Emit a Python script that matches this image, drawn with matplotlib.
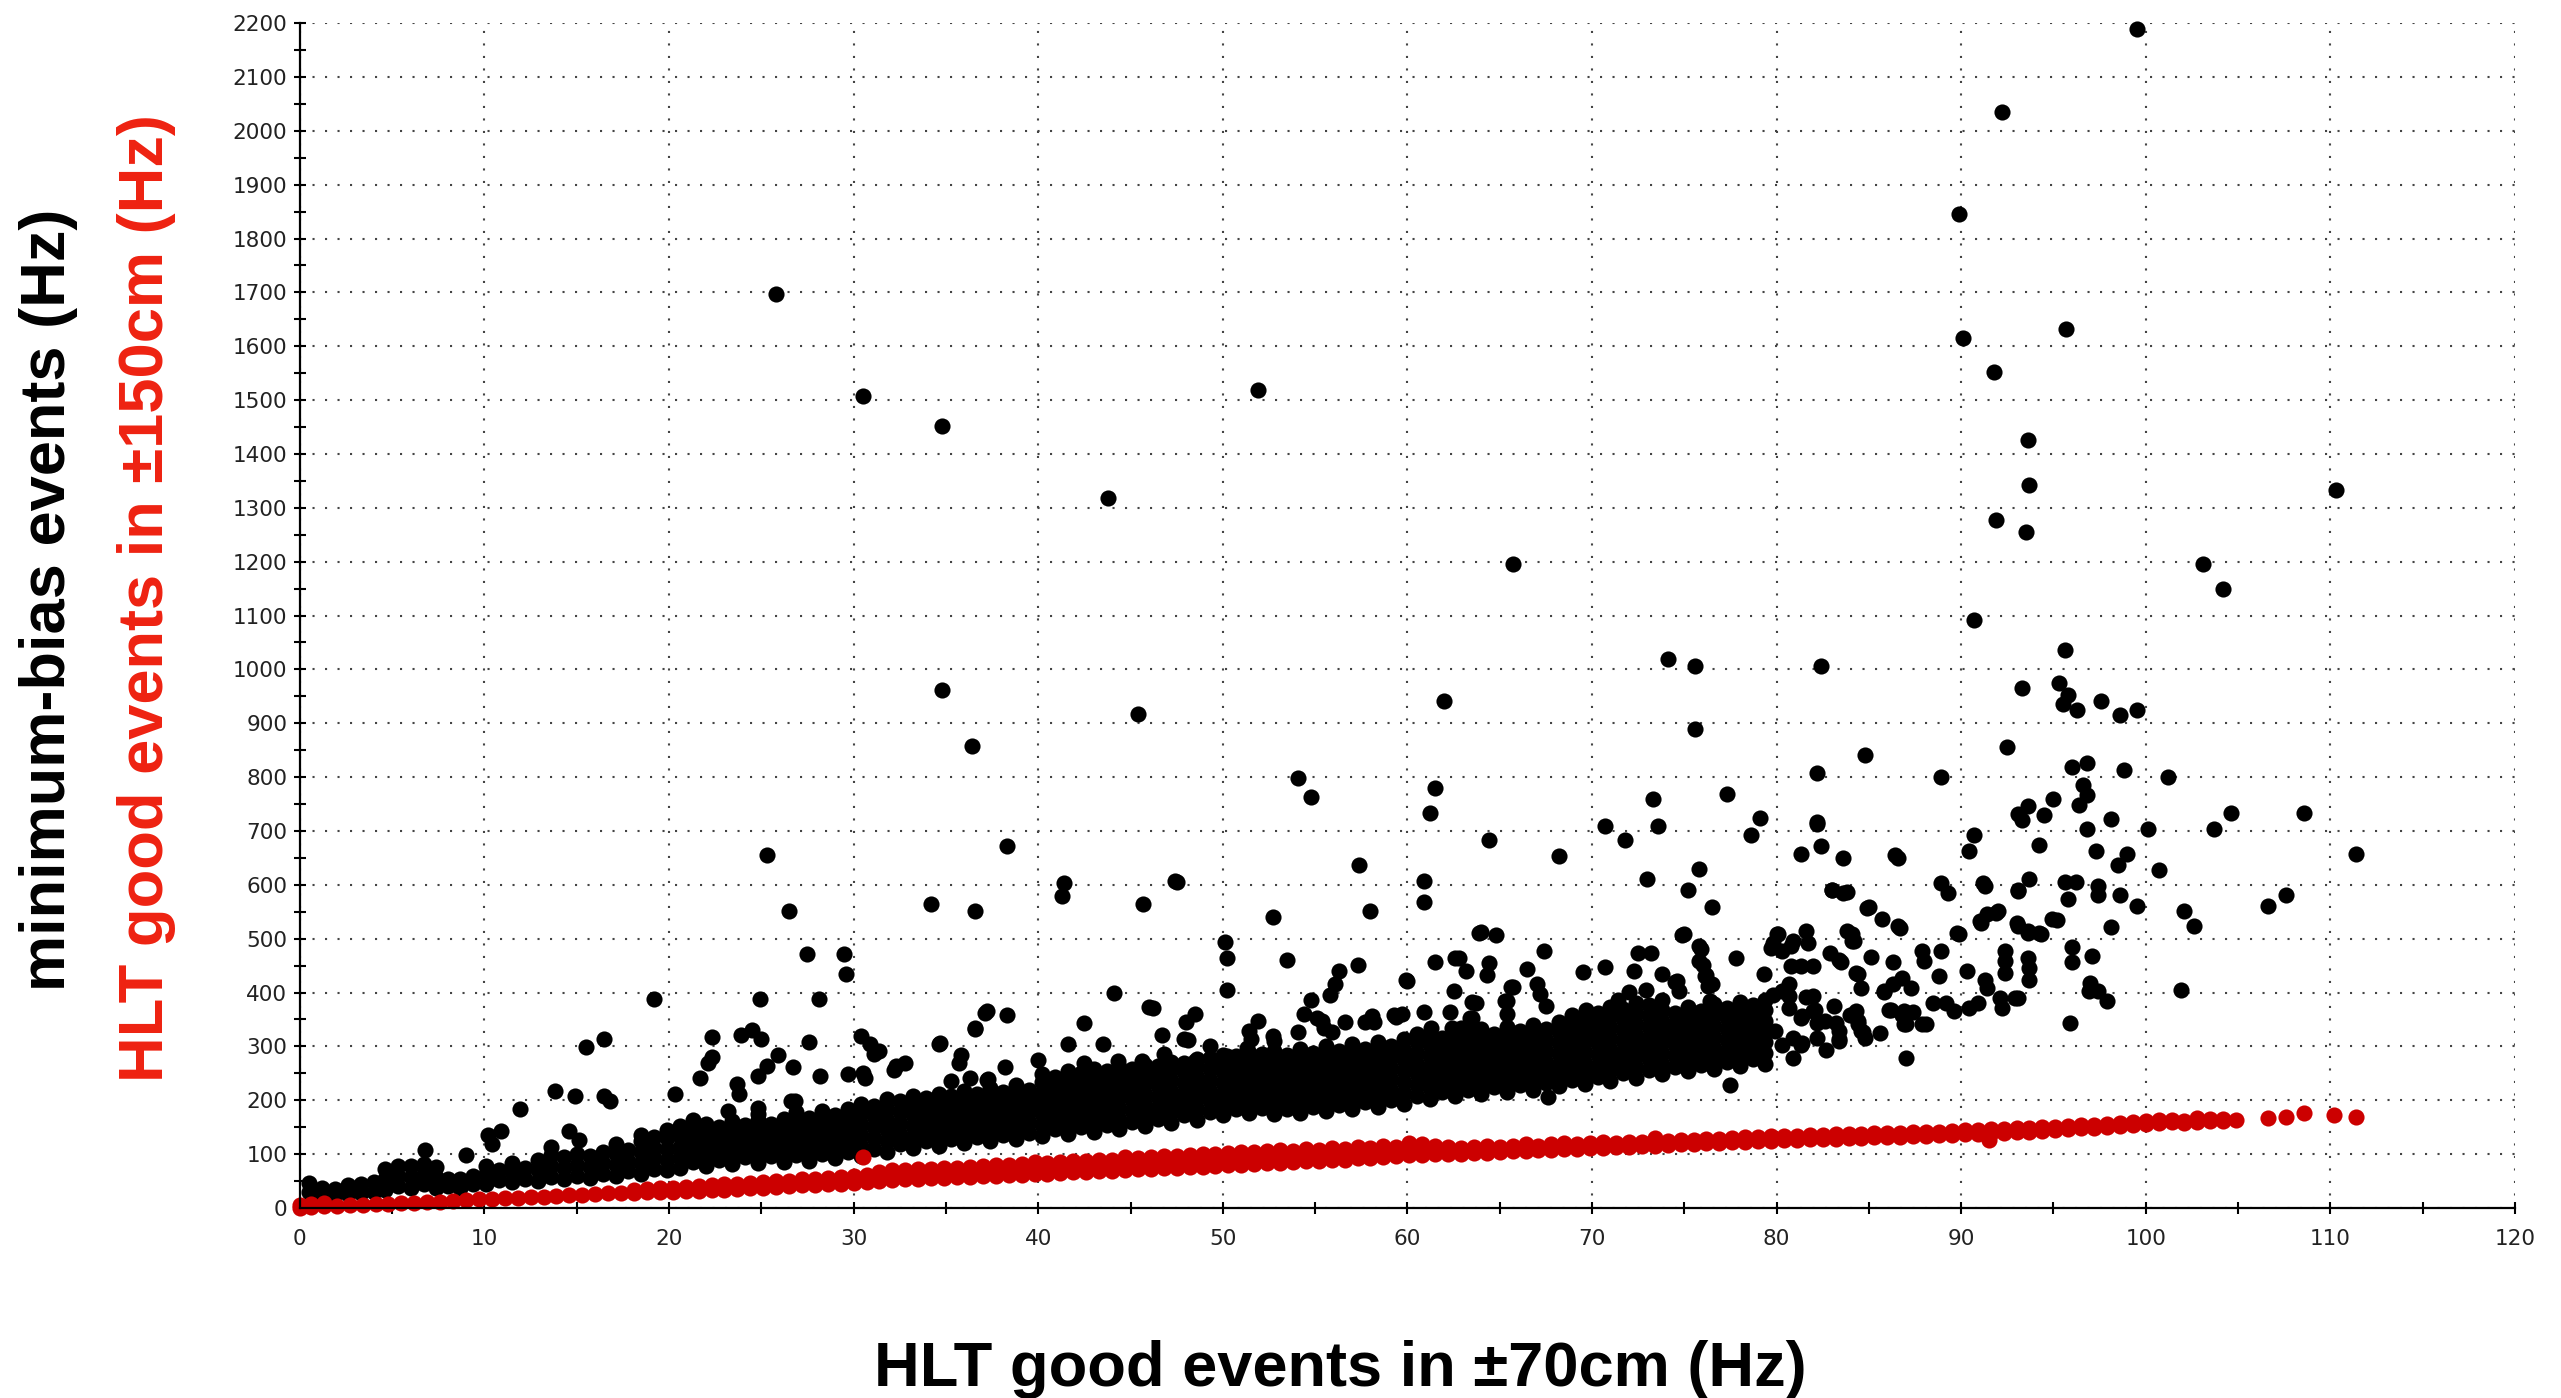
import matplotlib
matplotlib.use("Agg")
import matplotlib.pyplot as plt
from matplotlib.ticker import MultipleLocator

# ---------------- data ----------------
# dense black core: each entry = [x, y1, y2, ...]
core_a = [
    [0.5, 30, 46], [1.2, 22, 38], [1.9, 24, 36], [2.6, 26, 42], [3.3, 28, 44],
    [4.0, 30, 48], [4.6, 34, 54, 72], [5.3, 40, 60, 78], [6.0, 38, 58, 78],
    [6.7, 44, 64, 82], [7.4, 38, 58, 76], [8.0, 40, 54], [8.7, 38, 54],
    [9.4, 44, 60], [10.1, 44, 64, 78], [10.8, 52, 70], [11.5, 48, 66, 84],
    [12.2, 54, 74], [12.9, 50, 70, 90], [13.6, 58, 78, 98, 114], [14.3, 54, 74, 94],
    [15.0, 60, 80, 100], [15.7, 56, 76, 96], [16.4, 64, 84, 104], [17.1, 60, 80, 100, 118],
    [17.8, 68, 88, 108], [18.5, 64, 84, 104, 124, 136], [19.2, 72, 92, 112, 132],
    [19.9, 70, 90, 110, 130, 144],
]
core_b = [
    [20.6, 74, 94, 114, 134, 152], [21.3, 86, 106, 126, 146, 164],
    [22.0, 78, 98, 118, 138, 156], [22.7, 90, 110, 130, 150],
    [23.4, 82, 102, 122, 142, 162], [24.1, 94, 114, 134, 154],
    [24.8, 84, 104, 124, 144, 164, 174], [25.5, 96, 116, 136, 156],
    [26.2, 86, 106, 126, 146, 166], [26.9, 98, 118, 138, 158, 178],
    [27.6, 88, 108, 128, 148, 168], [28.3, 100, 120, 140, 160, 180],
    [29.0, 92, 112, 132, 152, 172], [29.7, 104, 124, 144, 164, 184],
    [30.4, 96, 116, 136, 156, 176, 194], [31.1, 110, 130, 150, 170, 190],
    [31.8, 104, 124, 144, 164, 184, 202], [32.5, 118, 138, 158, 178, 198],
    [33.2, 112, 132, 152, 172, 192, 208], [33.9, 124, 144, 164, 184, 204],
    [34.6, 116, 136, 156, 176, 196, 212], [35.3, 128, 148, 168, 188, 208],
    [36.0, 120, 140, 160, 180, 200, 218], [36.7, 132, 152, 172, 192, 212],
    [37.4, 124, 144, 164, 184, 204, 222], [38.1, 136, 156, 176, 196, 216],
    [38.8, 128, 148, 168, 188, 208, 228], [39.5, 140, 160, 180, 200, 220],
]
core_c = [
    [40.2, 134, 154, 174, 194, 214, 234, 248], [40.9, 146, 166, 186, 206, 226, 244],
    [41.6, 138, 158, 178, 198, 218, 238, 254], [42.3, 150, 170, 190, 210, 230, 250],
    [43.0, 142, 162, 182, 202, 222, 242, 258], [43.7, 154, 174, 194, 214, 234, 254],
    [44.4, 146, 166, 186, 206, 226, 246, 262], [45.1, 160, 180, 200, 220, 240, 258],
    [45.8, 152, 172, 192, 212, 232, 252, 266], [46.5, 166, 186, 206, 226, 246, 264],
    [47.2, 158, 178, 198, 218, 238, 258, 272], [47.9, 172, 192, 212, 232, 252, 270],
    [48.6, 164, 184, 204, 224, 244, 264, 276], [49.3, 178, 198, 218, 238, 258, 278],
    [50.0, 172, 192, 212, 232, 252, 272, 284], [50.7, 184, 204, 224, 244, 264, 282],
    [51.4, 176, 196, 216, 236, 256, 276, 288], [52.1, 186, 206, 226, 246, 266, 286],
    [52.8, 174, 194, 214, 234, 254, 274, 292], [53.5, 184, 204, 224, 244, 264, 284],
    [54.2, 176, 196, 216, 236, 256, 276, 296], [54.9, 188, 208, 228, 248, 268, 288],
    [55.6, 180, 200, 220, 240, 260, 280, 300], [56.3, 192, 212, 232, 252, 272, 292],
    [57.0, 184, 204, 224, 244, 264, 284, 304], [57.7, 196, 216, 236, 256, 276, 296],
    [58.4, 188, 208, 228, 248, 268, 288, 308], [59.1, 200, 220, 240, 260, 280, 300],
    [59.8, 194, 214, 234, 254, 274, 294, 314],
]
core_d = [
    [60.5, 208, 228, 248, 268, 288, 308], [61.2, 202, 222, 242, 262, 282, 302, 320],
    [61.9, 216, 236, 256, 276, 296, 316], [62.6, 208, 228, 248, 268, 288, 308, 328],
    [63.3, 220, 240, 260, 280, 300, 320], [64.0, 212, 232, 252, 272, 292, 312, 332],
    [64.7, 224, 244, 264, 284, 304, 324], [65.4, 216, 236, 256, 276, 296, 316, 336],
    [66.1, 228, 248, 268, 288, 308, 328], [66.8, 220, 240, 260, 280, 300, 320, 340],
    [67.5, 232, 252, 272, 292, 312, 332], [68.2, 226, 246, 266, 286, 306, 326, 346],
    [68.9, 238, 258, 278, 298, 318, 338], [69.6, 230, 250, 270, 290, 310, 330, 350],
    [70.3, 244, 264, 284, 304, 324, 344, 362], [71.0, 236, 256, 276, 296, 316, 336, 356, 374],
    [71.7, 250, 270, 290, 310, 330, 350, 370], [72.4, 242, 262, 282, 302, 322, 342, 362, 380],
    [73.1, 256, 276, 296, 316, 336, 356, 376], [73.8, 248, 268, 288, 308, 328, 348, 368, 386],
    [74.5, 262, 282, 302, 322, 342, 362], [75.2, 254, 274, 294, 314, 334, 354, 374],
    [75.9, 266, 286, 306, 326, 346, 366], [76.6, 258, 278, 298, 318, 338, 358, 378],
    [77.3, 272, 292, 312, 332, 352, 372], [78.0, 264, 284, 304, 324, 344, 364, 382],
    [78.7, 276, 296, 316, 336, 356, 376], [79.4, 268, 288, 308, 328, 348, 368, 386],
]

# scattered black points (x, y)
black_low = [
    (6.8, 108), (9.0, 98), (10.2, 136), (10.4, 118), (10.9, 143), (11.9, 183),
    (13.8, 217), (14.9, 208), (16.5, 208), (16.8, 198), (14.6, 143), (15.1, 127),
    (15.5, 299), (16.5, 313), (19.2, 388), (20.3, 212), (21.7, 242), (22.1, 270),
    (22.3, 280), (22.3, 317), (23.9, 322), (24.5, 331), (25.0, 313), (25.9, 284),
    (26.7, 261), (24.8, 245), (25.3, 263), (23.7, 230), (23.8, 212), (24.9, 388),
    (26.5, 551), (27.5, 472), (29.5, 472), (29.6, 435), (28.1, 388), (27.6, 308),
    (28.2, 246), (29.7, 249), (30.5, 251), (30.6, 242), (30.4, 319), (30.9, 304),
    (31.1, 286), (32.2, 257), (32.8, 270), (35.8, 284), (35.7, 270), (35.3, 235),
    (36.3, 242), (37.2, 237), (38.2, 261), (40.0, 274), (26.6, 198), (26.8, 198),
    (24.8, 186), (23.2, 181), (34.2, 565), (36.6, 551), (37.1, 362), (38.3, 358),
    (36.6, 333), (34.6, 304), (41.4, 603), (41.3, 580), (45.7, 564), (47.5, 606),
    (42.5, 343), (46.2, 372), (48.0, 346), (48.5, 360), (46.7, 322), (41.6, 304),
    (43.5, 304), (48.1, 312), (32.3, 264), (31.4, 292), (34.7, 306), (37.3, 239),
    (36.6, 335), (37.2, 366), (44.1, 399), (46.0, 373), (47.9, 314), (49.3, 301),
    (51.5, 314), (51.9, 348), (52.7, 320), (54.1, 326), (54.4, 360), (55.4, 348),
    (56.6, 345), (58.1, 357), (59.4, 354), (59.7, 360), (60.9, 363), (62.3, 363),
    (63.5, 382), (62.5, 402), (42.5, 270), (44.3, 273), (45.6, 273), (46.8, 286),
    (48.5, 273), (51.3, 298), (51.4, 329), (55.9, 326), (58.2, 345), (60.5, 323),
    (61.3, 335), (62.9, 335), (52.8, 310), (50.2, 283), (55.1, 352), (55.5, 335),
    (57.7, 345), (59.3, 358), (63.4, 352), (63.4, 335), (62.4, 334), (65.4, 360),
    (67.5, 375), (68.9, 358), (69.7, 368), (71.4, 387), (72.0, 401), (72.9, 404),
    (65.3, 384), (65.6, 410), (67.2, 397), (80.9, 278), (82.7, 293), (77.5, 229),
    (67.6, 206), (81.6, 391), (82.1, 368), (84.7, 327), (85.8, 401), (86.1, 368),
]
black_mid = [
    (50.1, 493), (50.2, 464), (50.2, 404), (53.5, 461), (56.3, 440), (57.3, 452),
    (56.1, 415), (55.8, 395), (54.8, 386), (60.0, 422), (61.5, 456), (62.6, 464),
    (63.2, 440), (64.4, 454), (64.3, 433), (67.4, 477), (66.5, 443), (67.0, 415),
    (69.5, 439), (70.7, 448), (72.3, 440), (72.5, 473), (73.2, 474), (73.8, 435),
    (75.8, 486), (75.8, 459), (76.2, 433), (76.5, 415), (74.5, 420), (77.8, 464),
    (79.3, 435), (79.8, 492), (80.8, 486), (80.8, 450), (82.9, 473), (83.5, 456),
    (84.1, 495), (85.1, 466), (84.4, 435), (84.6, 408), (86.3, 456), (59.9, 424),
    (62.8, 464), (65.7, 410), (65.4, 384), (63.7, 381), (63.5, 353), (74.6, 421),
    (74.7, 402), (75.9, 480), (76.0, 452), (76.1, 430), (76.3, 412), (76.4, 384),
    (80.0, 508), (80.9, 495), (81.6, 514), (79.7, 483), (80.3, 477), (81.3, 449),
    (82.0, 449), (83.4, 461), (83.8, 514), (84.9, 557), (85.7, 536), (86.6, 523),
    (84.3, 437), (80.7, 415), (80.7, 393), (79.8, 396), (82.0, 393), (85.8, 402),
    (86.3, 415), (86.8, 427), (87.3, 409), (86.8, 359), (87.0, 341), (87.9, 342),
    (85.6, 325), (87.0, 279), (88.5, 381), (89.6, 365), (90.4, 372), (90.9, 381),
    (88.8, 430), (88.9, 477), (87.9, 477), (88.0, 458), (89.8, 511), (90.3, 440),
    (91.3, 424), (91.4, 409), (92.1, 390), (92.2, 372), (92.9, 390), (92.4, 477),
    (92.4, 458), (92.4, 437), (93.6, 464), (93.7, 446), (93.7, 424), (91.0, 533),
    (91.4, 545), (92.0, 551), (93.0, 529), (93.6, 514), (94.2, 511), (94.9, 536),
    (81.7, 492), (84.2, 496), (97.0, 418), (96.9, 402), (97.9, 385), (89.2, 380),
    (86.9, 366), (87.4, 364), (86.2, 368), (84.3, 366), (84.4, 348), (84.6, 328),
    (83.1, 375), (83.2, 344), (83.4, 313), (81.4, 357), (82.2, 344), (81.4, 307),
    (95.9, 343), (80.3, 402), (80.7, 372), (81.3, 353), (82.0, 365), (82.6, 347),
    (83.4, 328), (84.0, 359), (84.4, 341), (84.8, 316), (80.9, 316), (81.3, 303),
    (82.2, 316), (83.4, 310), (79.9, 328), (80.3, 303), (88.1, 341), (86.9, 341),
    (101.9, 404), (63.9, 510), (64.8, 507), (74.9, 507), (80.1, 508), (64.0, 512),
    (75.0, 509),
]
black_high = [
    (25.8, 1697), (30.5, 1507), (34.8, 1452), (43.8, 1318), (51.9, 1519), (65.7, 1195),
    (99.5, 2189), (92.2, 2035), (89.9, 1846), (90.1, 1616), (95.7, 1632), (91.8, 1553),
    (93.6, 1426), (93.7, 1343), (91.9, 1277), (93.5, 1255), (110.3, 1333), (103.1, 1196),
    (104.2, 1150), (90.7, 1091), (74.1, 1019), (75.6, 1007), (82.4, 1006), (95.6, 1036),
    (34.8, 962), (62.0, 941), (45.4, 918), (93.3, 965), (95.3, 974), (95.8, 953),
    (95.5, 936), (96.3, 924), (97.6, 941), (98.6, 916), (99.5, 924),
    (36.4, 857), (75.6, 890), (84.8, 842), (82.2, 808), (96.0, 818), (96.8, 827),
    (98.8, 814), (88.9, 801), (101.2, 801), (92.5, 856),
    (54.1, 798), (54.8, 763), (61.5, 780), (61.2, 734), (73.3, 759), (77.3, 768),
    (79.1, 725), (96.6, 785), (96.8, 766), (96.4, 748), (95.0, 759), (93.6, 747),
    (93.1, 731), (93.3, 721), (94.5, 730), (98.1, 722), (82.2, 713), (108.6, 734),
    (104.6, 734), (103.7, 704), (96.8, 704), (100.1, 704), (70.7, 709), (73.6, 709),
    (82.2, 717),
    (78.6, 693), (71.8, 683), (64.4, 684), (38.3, 672), (68.2, 654), (81.3, 657),
    (82.4, 672), (83.6, 649), (86.4, 656), (57.4, 637), (75.8, 629), (73.0, 611),
    (47.4, 607), (60.9, 607), (25.3, 656), (90.7, 692), (90.4, 662), (111.4, 658),
    (86.6, 649), (94.2, 674), (97.3, 662), (99.0, 657), (98.5, 636), (100.7, 627),
    (88.9, 604), (89.3, 585), (91.2, 604), (93.1, 591), (93.7, 610), (83.0, 591),
    (83.6, 585),
    (60.9, 569), (58.0, 552), (52.7, 541), (76.5, 558), (83.0, 590), (83.8, 587),
    (85.0, 558), (75.2, 590), (91.3, 598), (93.1, 588), (95.6, 606), (96.2, 606),
    (95.8, 573), (97.4, 598), (97.4, 582), (98.6, 582), (99.5, 561), (106.6, 561),
    (107.6, 582), (102.1, 552), (102.6, 523), (86.7, 520), (84.1, 509), (89.9, 508),
    (91.1, 529), (91.9, 547), (93.1, 524), (93.6, 510), (94.3, 508), (95.2, 534),
    (98.1, 522), (96.0, 485), (97.1, 468), (96.0, 456), (93.1, 389), (97.4, 402),
]

# red series: each entry = [x, y1, y2, ...]
red_cols = [
    [0.0, 0, 6], [0.6, 2, 8], [1.3, 3, 9], [2.0, 4], [2.7, 5], [3.4, 6], [4.1, 7],
    [4.8, 8], [5.5, 9], [6.2, 10], [6.9, 11], [7.6, 12], [8.3, 13], [9.0, 14],
    [9.7, 16], [10.4, 17], [11.1, 18], [11.8, 19], [12.5, 20], [13.2, 21],
    [13.9, 22], [14.6, 24], [15.3, 25], [16.0, 26], [16.7, 27], [17.4, 28],
    [18.1, 28, 34], [18.8, 29, 36], [19.5, 30, 37], [20.2, 30, 38], [20.9, 31, 39],
    [21.6, 32, 41], [22.3, 33, 42], [23.0, 34, 44], [23.7, 35, 45], [24.4, 37, 47],
    [25.1, 38, 48], [25.8, 39, 50], [26.5, 40, 51], [27.2, 42, 53], [27.9, 43, 54],
    [28.6, 44, 56], [29.3, 45, 57], [30.0, 46, 53, 60], [30.5, 95], [30.7, 48, 55, 62],
    [31.4, 50, 58, 66], [32.1, 52, 61, 70], [32.8, 53, 62, 70], [33.5, 54, 63, 72],
    [34.2, 55, 64, 72], [34.9, 56, 65, 74], [35.6, 57, 66, 75], [36.3, 58, 68, 77],
    [37.0, 59, 69, 78], [37.7, 60, 70, 80], [38.4, 61, 71, 80], [39.1, 62, 72, 82],
    [39.8, 63, 74, 86], [40.5, 64, 74, 84], [41.2, 65, 76, 86], [41.9, 66, 77, 88],
    [42.6, 67, 78, 88], [43.3, 68, 79, 90], [44.0, 69, 80, 90], [44.7, 70, 82, 94],
    [45.4, 72, 82, 92], [46.1, 73, 84, 94], [46.8, 74, 85, 96], [47.5, 75, 86, 96],
    [48.2, 76, 87, 98], [48.9, 77, 88, 100], [49.6, 78, 89, 100], [50.3, 79, 90, 102],
    [51.0, 80, 92, 104], [51.7, 82, 93, 104], [52.4, 83, 94, 106], [53.1, 84, 96, 108],
    [53.8, 86, 96, 106], [54.5, 87, 98, 110], [55.2, 88, 98, 108], [55.9, 89, 100, 112],
    [56.6, 90, 100, 110], [57.3, 92, 103, 114], [58.0, 93, 103, 112], [58.7, 95, 105, 116],
    [59.4, 96, 105, 114], [60.1, 98, 109, 120], [60.8, 99, 108, 118], [61.5, 100, 108, 116],
    [62.2, 101, 114], [62.9, 101, 112], [63.6, 102, 113], [64.3, 103, 116], [65.0, 104, 114],
    [65.7, 105, 116], [66.4, 106, 118], [67.1, 107, 116], [67.8, 108, 118],
    [68.5, 109, 120], [69.2, 110, 119], [69.9, 111, 120], [70.6, 112, 122],
    [71.3, 113, 121], [72.0, 114, 123], [72.7, 115, 122], [73.4, 116, 123, 130],
    [74.1, 117, 125], [74.8, 118, 126], [75.5, 119, 127], [76.2, 120, 128],
    [76.9, 121, 128], [77.6, 122, 130], [78.3, 123, 131], [79.0, 124, 132],
    [79.7, 125, 133], [80.4, 126, 134], [81.1, 127, 134], [81.8, 128, 135],
    [82.5, 128, 136], [83.2, 129, 137], [83.9, 130, 137], [84.6, 130, 138],
    [85.3, 131, 139], [86.0, 132, 140], [86.7, 132, 140], [87.4, 133, 141],
    [88.1, 134, 142], [88.8, 135, 142], [89.5, 136, 143], [90.2, 137, 144],
    [90.9, 138, 145], [91.5, 126], [91.6, 139, 146], [92.3, 140, 147], [93.0, 141, 148],
    [93.7, 142, 149], [94.4, 143, 150], [95.1, 145, 151], [95.8, 146, 153],
    [96.5, 148, 154], [97.2, 149, 155], [97.9, 151, 156], [98.6, 152, 157],
    [99.3, 154, 159], [100.0, 156, 161], [100.7, 158, 163], [101.4, 159, 164],
    [102.1, 158, 162], [102.8, 160, 168], [103.5, 161, 165], [104.2, 162, 166],
    [104.9, 163], [106.6, 167], [107.6, 169], [108.6, 176], [110.2, 173], [111.4, 169],
]

x_label = "HLT good events in ±70cm (Hz)"
y_label_black = "minimum-bias events (Hz)"
y_label_red = "HLT good events in ±150cm (Hz)"

# ---------------- assemble ----------------
bx, by = [], []
for cols in (core_a, core_b, core_c, core_d):
    for c in cols:
        for y in c[1:]:
            bx.append(c[0])
            by.append(y)
for pts in (black_low, black_mid, black_high):
    for x, y in pts:
        bx.append(x)
        by.append(y)
rx, ry = [], []
for c in red_cols:
    for y in c[1:]:
        rx.append(c[0])
        ry.append(y)

# ---------------- plot ----------------
fig = plt.figure(figsize=(25.61, 13.98), dpi=100)
ax = fig.add_axes([0.1171, 0.1359, 0.8649, 0.8476])

ax.scatter(bx, by, s=135, c="black", linewidths=0, clip_on=False, zorder=3)
ax.scatter(rx, ry, s=135, c="#cc0000", linewidths=0, clip_on=False, zorder=4)

ax.set_xlim(0, 120)
ax.set_ylim(0, 2200)
ax.xaxis.set_major_locator(MultipleLocator(10))
ax.xaxis.set_minor_locator(MultipleLocator(5))
ax.yaxis.set_major_locator(MultipleLocator(100))
ax.yaxis.set_minor_locator(MultipleLocator(50))
ax.grid(True, which="major", linestyle=(0, (1, 5)), linewidth=1.5, color="#444444")
ax.set_axisbelow(True)

for s in ("top", "right"):
    ax.spines[s].set_visible(False)
for s in ("left", "bottom"):
    ax.spines[s].set_linewidth(1.6)
    ax.spines[s].set_zorder(5)

ax.tick_params(which="both", direction="inout", length=8, width=1.5, color="black")
ax.tick_params(axis="x", which="major", labelsize=15.5, labelcolor="#222222", pad=11)
ax.tick_params(axis="y", which="major", labelsize=15.5, labelcolor="#222222", pad=5)

lab = dict(family=["Liberation Sans", "DejaVu Sans"], weight="bold", fontsize=45.5)
fig.text(0.5232, 0.0086, x_label, ha="center", va="baseline", color="black", **lab)
fig.text(0.0254, 0.5708, y_label_black, rotation=90, rotation_mode="anchor",
         ha="center", va="baseline", color="black", **lab)
fig.text(0.0637, 0.5722, y_label_red, rotation=90, rotation_mode="anchor",
         ha="center", va="baseline", color="#ee2211", **lab)

fig.savefig("out.png", dpi=100)
